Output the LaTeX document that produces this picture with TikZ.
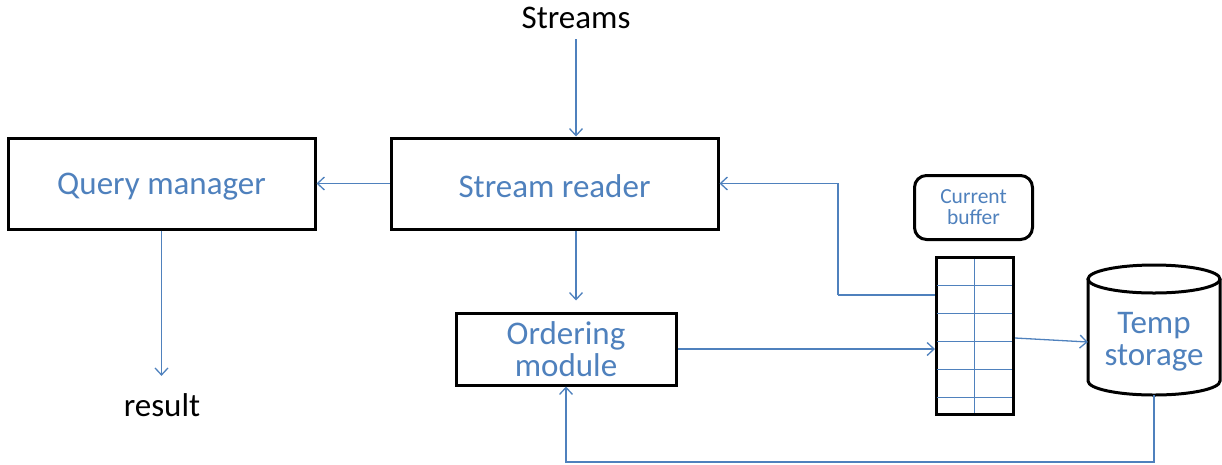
\documentclass[tikz,border=0pt]{standalone}
\usepackage{fontspec}
\setmainfont{Carlito}
\usetikzlibrary{arrows.meta,calc}
\definecolor{lineblue}{HTML}{4F81BD}
\definecolor{textblue}{HTML}{4F81BD}
\tikzset{
  box/.style={draw=black, line width=3pt, fill=white, text=textblue, font=\fontsize{33}{32}\selectfont, align=center, inner sep=0pt},
  arr/.style={draw=lineblue, line width=1.3pt, -{Straight Barb[length=7pt,width=13pt,line width=1.3pt]}},
  conn/.style={draw=lineblue, line width=1.3pt},
  grid/.style={draw=lineblue, line width=1pt},
  plain/.style={font=\fontsize{33}{32}\selectfont, text=black},
}
\begin{document}
\begin{tikzpicture}[x=1pt,y=-1pt]
\useasboundingbox (0,0) rectangle (1222,464);
% nodes
\node[plain] (st) at (576,18) {Streams};
\node[box, minimum width=307, minimum height=91] (qm) at (161.5,183.5) {\raisebox{-3pt}[\height][\depth]{Query manager}};
\node[box, minimum width=327, minimum height=91] (sr) at (554.5,183.5) {\raisebox{-3pt}[\height][\depth]{Stream reader}};
\node[box, minimum width=220, minimum height=72] (om) at (566,349) {Ordering\\module};
\node[plain] (res) at (162,405) {result};
\node[box, rounded corners=12pt, minimum width=118, minimum height=64, font=\fontsize{21.5}{21}\selectfont] (cb) at (973.5,207.5) {Current\\buffer};
% buffer
\node[draw=black, line width=3pt, minimum width=77, minimum height=157, inner sep=0pt] (buf) at (975,336) {};
\draw[grid] (974,259) -- (974,413);
\foreach \yy in {285,313,341.5,369,397} {
  \draw[grid] (937,\yy) -- (1012,\yy);
}
% temp storage cylinder
\draw[black, line width=3pt, fill=white] (1088,279) -- (1088,381) arc[start angle=180, end angle=360, x radius=66pt, y radius=14pt] -- (1220,279);
\draw[black, line width=3pt] (1154,279) ellipse [x radius=66pt, y radius=14pt];
\node[text=textblue, font=\fontsize{33}{32}\selectfont, align=center, minimum width=132, minimum height=106, inner sep=0pt] (ts) at (1154,342) {Temp\\storage};
% connectors
\coordinate (bend) at (838,295);
\coordinate (low) at (0,462);
\draw[arr, shorten <=7pt] (st.south) -- (st.south |- sr.north);
\draw[arr] (sr.west) -- (qm.east);
\draw[arr, shorten >=11pt] (st.south |- sr.south) -- (st.south |- om.north);
\draw[arr, shorten >=14pt] (qm.south) -- (qm.south |- res.north);
\draw[arr] (om.east) -- (buf.west |- om.east);
\draw[conn] (buf.west |- bend) -- (bend);
\draw[arr] (bend) |- (sr.east);
\draw[arr] ([yshift=-2pt]buf.east) -- (ts.west);
\draw[arr] (ts.south) -- (ts.south |- low) -| (om.south);
\end{tikzpicture}
\end{document}
